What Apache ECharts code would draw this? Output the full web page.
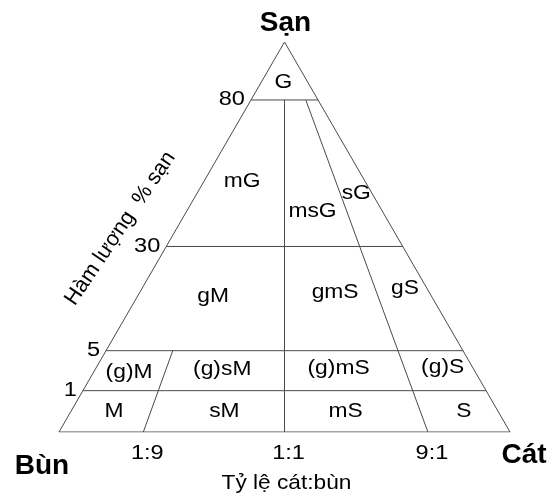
<!DOCTYPE html>
<html>
<head>
<meta charset="utf-8">
<script src="https://cdn.jsdelivr.net/npm/echarts@6/dist/echarts.min.js"></script>
<style>
html,body{margin:0;padding:0;background:#fff;}
#chart{width:553px;height:500px;}
</style>
</head>
<body>
<div id="chart"></div>
<script>
// ---- data ----
const cornerLabels = ['Sạn', 'Bùn', 'Cát'];
const gravelAxisTitle = 'Hàm lượng  % sạn';
const ratioAxisTitle = 'Tỷ lệ cát:bùn';
const gravelTicks = [1, 5, 30, 80];
const gravelTickLabels = ['1', '5', '30', '80'];
const ratioTicks = [0.1, 0.5, 0.9];           // sand / (sand + mud)
const ratioTickLabels = ['1:9', '1:1', '9:1'];
// class boundaries: sand:mud ratio lines and the gravel % where they stop
const boundaryRatios = [0.1, 0.5, 0.9];
const boundaryTopGravel = [5, 80, 80];
// class labels with their (gravel %, sand fraction)
const regionNames = ['G', 'mG', 'msG', 'sG', 'gM', 'gmS', 'gS', '(g)M', '(g)sM', '(g)mS', '(g)S', 'M', 'sM', 'mS', 'S'];
const regionGravel = [86, 52, 42, 48, 18, 19, 20, 2.8, 3.1, 3.2, 3.3, 0.5, 0.5, 0.5, 0.5];
const regionSand = [0.47, 0.165, 0.68, 0.95, 0.19, 0.72, 0.958, 0.05, 0.29, 0.68, 0.956, 0.054, 0.32, 0.68, 0.956];
// distorted (non-linear) axis scales of the diagram
const gravelScaleValues = [0, 1, 5, 30, 80, 100];
const gravelScalePos = [0, 0.106, 0.2085, 0.4757, 0.8514, 1];
const sandScaleValues = [0, 0.1, 0.5, 0.9, 1];
const sandScalePos = [0, 0.187, 0.5, 0.818, 1];

// ---- helpers ----
function piecewise(v, dom, rng) {
  for (let i = 1; i < dom.length; i++) {
    if (v <= dom[i]) {
      const t = (v - dom[i - 1]) / (dom[i] - dom[i - 1]);
      return rng[i - 1] + t * (rng[i] - rng[i - 1]);
    }
  }
  return rng[rng.length - 1];
}
function tern(g, r) {
  const h = piecewise(g, gravelScaleValues, gravelScalePos);
  const u = piecewise(r, sandScaleValues, sandScalePos);
  return [u * (1 - h) + 0.5 * h, h];
}

const segments = [];
// triangle outline
segments.push([tern(0, 0), tern(0, 1)]);
segments.push([tern(0, 0), tern(100, 0)]);
segments.push([tern(0, 1), tern(100, 1)]);
// gravel lines
gravelTicks.forEach(g => segments.push([tern(g, 0), tern(g, 1)]));
// ratio boundaries
boundaryRatios.forEach((r, i) => segments.push([tern(0, r), tern(boundaryTopGravel[i], r)]));

const FONT = '"Liberation Sans", Arial, sans-serif';
const LINE = '#4a4a4a';

const chart = echarts.init(document.getElementById('chart'), null, {renderer: 'canvas'});
chart.setOption({
  animation: false,
  backgroundColor: '#fff',
  grid: {left: 59, right: 43, top: 42, bottom: 68},
  xAxis: {type: 'value', min: 0, max: 1, show: false},
  yAxis: {type: 'value', min: 0, max: 1, show: false},
  series: segments.map(seg => ({
    type: 'line',
    data: seg,
    symbol: 'none',
    silent: true,
    lineStyle: {color: LINE, width: 1}
  }))
});

function px(pt) { return chart.convertToPixel({gridIndex: 0}, pt); }
function txt(text, p, o) {
  o = o || {};
  return {
    type: 'text',
    x: p[0] + (o.dx || 0),
    y: p[1] + (o.dy || 0),
    scaleX: o.sx || 1,
    rotation: o.rot || 0,
    silent: true,
    style: {
      text: text,
      x: 0, y: 0,
      font: (o.weight || 'normal') + ' ' + (o.size || 20) + 'px ' + FONT,
      fill: '#000',
      textAlign: o.align || 'center',
      align: o.align || 'center',
      textVerticalAlign: 'middle',
      verticalAlign: 'middle'
    }
  };
}

const graphics = [];
// class labels
regionNames.forEach((n, i) => {
  graphics.push(txt(n, px(tern(regionGravel[i], regionSand[i])), {size: 19.5, sx: 1.17}));
});
// gravel ticks on left edge
gravelTicks.forEach((g, i) => {
  graphics.push(txt(gravelTickLabels[i], px(tern(g, 0)), {size: 20, sx: 1.18, align: 'right', dx: -6}));
});
// ratio ticks under base
ratioTicks.forEach((r, i) => {
  graphics.push(txt(ratioTickLabels[i], px(tern(0, r)), {size: 21, sx: 1.12, dx: 4, dy: 21}));
});
// corners
const apex = px(tern(100, 0.5));
const bl = px(tern(0, 0));
const br = px(tern(0, 1));
graphics.push(txt(cornerLabels[0], apex, {size: 28, weight: 'bold', dx: 1, dy: -19}));
graphics.push(txt(cornerLabels[1], bl, {size: 28, weight: 'bold', dx: -17, dy: 34}));
graphics.push(txt(cornerLabels[2], br, {size: 28, weight: 'bold', dx: 14, dy: 23}));
// axis titles
graphics.push(txt(ratioAxisTitle, [(bl[0] + br[0]) / 2, bl[1]], {size: 21, sx: 1.08, dx: 2, dy: 51}));
graphics.push(txt(gravelAxisTitle, px(tern(30, 0)), {size: 21.5, sx: 1.0, dx: -46, dy: -18, rot: 56 * Math.PI / 180}));

chart.setOption({graphic: graphics});
</script>
</body>
</html>
